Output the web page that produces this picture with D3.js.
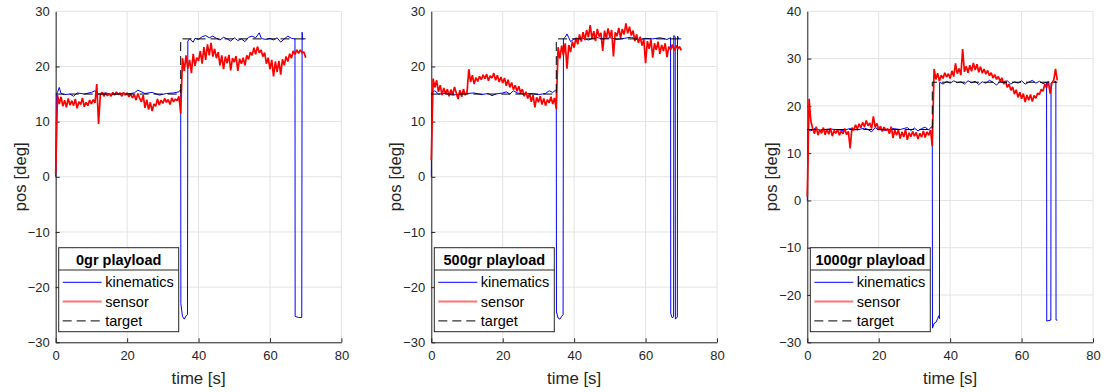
<!DOCTYPE html>
<html>
<head>
<meta charset="utf-8">
<script src="https://cdn.jsdelivr.net/npm/d3@7"></script>
<style>
body { margin: 0; background: #fff; }
svg { display: block; }
text { font-family: "Liberation Sans", Arial, sans-serif; fill: #262626; }
</style>
</head>
<body>
<svg id="chart" width="1104" height="392"></svg>
<script>
// sensor samples every 0.5 s, t = 0 .. 70
var sensorTime = d3.range(0, 70.01, 0.5);

var sensor0 = [
    0.5, 14.8, 13.2, 14.5, 12.8, 13.9, 12.6, 14.2, 13.0, 13.8,
    12.9, 14.1, 12.4, 13.6, 13.1, 14.3, 12.7, 13.5, 12.9, 13.9,
    13.2, 14.0, 13.4, 16.8, 9.6, 14.9, 15.3, 14.6, 15.2, 14.7,
    15.1, 14.6, 15.3, 14.8, 15.4, 14.9, 15.2, 14.6, 15.3, 14.8,
    15.2, 14.5, 15.0, 14.3, 14.9, 13.9, 15.1, 14.2, 13.6, 14.8,
    12.5, 14.0, 12.2, 13.5, 11.9, 13.2, 12.8, 14.1, 13.0, 13.9,
    13.3, 14.2, 13.5, 14.0, 13.1, 14.3, 13.6, 14.1, 13.8, 14.6,
    11.5, 21.5, 19.2, 22.0, 19.6, 21.2, 18.8, 22.3, 20.1, 21.6,
    21.0, 22.8, 20.5, 23.5, 21.2, 24.0, 22.0, 24.3, 21.8, 23.2,
    21.5, 22.6, 20.2, 22.0, 19.5, 21.8, 20.6, 22.1, 19.3, 21.5,
    20.8, 21.9, 19.2, 21.4, 20.5, 21.6, 20.2, 22.0, 21.3, 22.6,
    22.0, 23.4, 22.2, 23.6, 22.5, 23.0, 21.8, 22.5, 20.5, 21.6,
    19.5, 21.2, 18.2, 20.9, 19.0, 21.0, 18.5, 21.3, 20.2, 21.8,
    20.9, 22.3, 21.5, 22.8, 22.2, 23.0, 22.4, 23.0, 22.5, 22.6,
    21.6
];

var sensor500 = [
    3.0, 17.8, 16.2, 17.5, 15.4, 16.6, 14.8, 16.1, 15.0, 15.9,
    14.6, 15.8, 14.9, 16.3, 15.2, 14.1, 15.7, 14.5, 15.9, 14.8,
    15.3, 19.5, 17.2, 18.4, 16.8, 18.0, 17.3, 18.2, 17.6, 18.5,
    17.8, 18.6, 17.4, 18.3, 17.9, 18.8, 17.5, 18.4, 17.2, 18.1,
    17.0, 17.9, 16.5, 17.6, 16.2, 17.1, 15.8, 16.6, 15.5, 16.4,
    15.2, 15.9, 14.6, 15.4, 14.2, 15.1, 13.6, 14.8, 12.6, 14.4,
    13.5, 14.6, 13.1, 14.2, 12.9, 14.0, 13.4, 14.5, 13.2, 14.3,
    12.3, 23.5, 21.4, 23.8, 22.0, 24.2, 19.6, 23.9, 22.6, 24.5,
    23.4, 25.2, 24.0, 25.8, 24.5, 26.2, 24.8, 26.6, 25.3, 27.5,
    25.0, 26.4, 24.6, 26.8, 25.4, 26.1, 22.8, 26.5, 25.1, 26.9,
    25.3, 26.6, 21.8, 26.2, 25.5, 27.0, 25.2, 26.8, 25.8, 27.8,
    26.0, 27.2, 25.6, 26.5, 24.6, 25.8, 24.3, 25.4, 23.8, 24.9,
    20.6, 24.6, 23.2, 24.9, 21.6, 24.2, 23.0, 24.5, 22.3, 23.9,
    22.8, 24.2, 21.7, 23.6, 23.0, 24.0, 22.9, 23.8, 23.2, 23.6,
    22.9
];

var sensor1000 = [
    0.8, 21.5, 16.8, 15.2, 14.1, 15.6, 13.8, 15.0, 14.2, 15.4,
    13.9, 15.1, 14.0, 15.3, 13.6, 14.8, 14.2, 15.0, 13.8, 14.7,
    14.1, 15.2, 13.9, 14.6, 11.0, 15.4, 14.8, 16.0, 15.1, 16.2,
    15.4, 16.5, 15.6, 16.9, 15.8, 16.4, 15.2, 17.8, 15.5, 16.3,
    14.9, 15.7, 14.6, 15.5, 14.8, 15.2, 14.1, 15.6, 13.2, 14.9,
    13.8, 14.9, 13.1, 14.5, 13.4, 15.0, 12.8, 14.3, 13.5, 14.6,
    13.6, 14.4, 13.0, 14.2, 13.4, 14.7, 13.3, 14.5, 13.8, 14.9,
    11.5, 27.8, 25.6, 26.9, 25.2, 26.5, 25.8, 27.0, 26.1, 26.8,
    25.8, 27.4, 26.2, 29.0, 26.8, 27.9, 26.5, 32.0, 27.2, 28.4,
    27.0, 28.6, 27.3, 29.1, 27.6, 28.8, 27.1, 28.3, 26.9, 27.8,
    26.7, 27.5, 26.4, 27.0, 25.9, 26.6, 25.6, 26.2, 25.2, 25.9,
    24.6, 25.3, 23.9, 24.6, 23.3, 24.0, 22.5, 23.4, 21.8, 22.9,
    21.5, 22.6, 20.8, 22.3, 21.2, 22.4, 20.9, 22.2, 21.6, 22.7,
    22.4, 23.5, 23.1, 24.6, 23.8, 25.2, 22.6, 24.9, 25.4, 27.8,
    25.4
];

// kinematics (time [s], pos [deg])
var kinTime0 = [0, 0.2, 0.5, 1, 1.5, 2.5, 4, 5, 6, 8, 10, 11, 12, 14, 16, 18, 20, 22, 23, 25, 27, 29, 31, 33, 34.5, 35,
    35.05, 35.5, 36, 36.5, 36.9, 37, 37.5, 38.5, 39, 40, 41, 42, 43, 44, 45, 46, 47, 48, 49, 50, 51, 52, 53, 54, 55, 56, 57,
    57.5, 58, 59, 60, 61, 62, 63, 64, 65, 66, 67, 67.05, 68, 68.9, 69, 69.1, 70];
var kinPos0 = [0, 14.8, 15.3, 16.2, 15.1, 14.9, 15.0, 14.6, 15.2, 15.0, 15.3, 15.6, 15.0, 15.2, 14.9, 15.1, 15.0, 15.2, 15.7, 15.1, 15.3, 14.8, 15.1, 15.2, 15.4, 15.8,
    -23.0, -25.3, -25.8, -25.2, -25.0, 24.6, 25.0, 24.4, 25.1, 24.9, 25.4, 25.6, 25.2, 25.5, 25.1, 24.8, 25.3, 25.0, 24.6, 25.2, 24.7, 25.0, 24.5, 25.3, 25.5, 25.2, 26.1,
    25.2, 25.0, 24.9, 25.1, 24.8, 25.2, 24.4, 25.0, 25.5, 25.1, 25.0, -25.3, -25.5, -25.5, 26.2, 25.0, 25.0];

var kinTime500 = [0, 0.2, 1, 2, 4, 6, 8, 10, 12, 14, 16, 17, 18, 20, 21, 22, 23, 24, 26, 28, 30, 32, 33, 34, 34.8, 35,
    35.05, 35.5, 36, 36.5, 36.9, 37, 37.5, 38, 38.5, 39, 40, 42, 44, 46, 48, 50, 52, 54, 56, 58, 60, 62, 64, 66, 67,
    67.05, 67.5, 67.85, 67.9, 68.3, 68.35, 68.9, 68.95, 69.3, 70];
var kinPos500 = [0, 15.3, 15.6, 15.0, 15.1, 14.8, 15.0, 15.1, 15.2, 14.9, 15.1, 14.7, 15.0, 15.2, 15.4, 15.0, 15.6, 15.2, 15.0, 15.1, 14.9, 15.1, 15.6, 15.3, 15.7, 15.5,
    -24.5, -25.6, -25.8, -25.3, -25.0, 25.0, 25.3, 25.9, 25.2, 24.5, 25.0, 25.2, 24.8, 25.3, 25.0, 25.2, 24.9, 25.1, 25.3, 24.8, 25.1, 25.0, 25.2, 24.9, 25.2,
    -24.8, -25.6, -25.3, 25.6, 25.4, -25.8, -25.4, 25.5, 25.0, 25.0];

var kinTime1000 = [0, 0.2, 1, 2, 4, 6, 8, 10, 12, 14, 16, 17, 18, 19, 20, 22, 24, 26, 28, 29, 30, 31, 32, 33, 34, 34.8, 35,
    35.05, 35.5, 36, 36.5, 36.8, 37, 37.05, 38, 39, 40, 41, 42, 43, 44, 45, 46, 47, 48, 49, 50, 51, 52, 53, 54, 55, 56, 57,
    58, 59, 60, 61, 62, 63, 64, 65, 66, 67, 67.05, 68.2, 68.25, 69.6, 69.65, 70];
var kinPos1000 = [0, 15.0, 14.7, 15.2, 14.8, 15.1, 15.0, 14.8, 15.2, 14.9, 15.3, 15.0, 14.5, 15.4, 15.0, 14.8, 15.2, 15.0, 15.4, 14.8, 15.3, 14.7, 15.2, 15.5, 14.9, 15.6, 15.3,
    -27.0, -26.0, -25.8, -25.0, -24.4, -25.0, 25.0, 24.6, 25.2, 24.8, 25.3, 24.9, 25.1, 24.6, 25.3, 24.9, 25.2, 24.5, 25.1, 24.8, 25.4, 25.0, 24.4, 25.2, 24.9, 25.3, 24.6,
    25.1, 24.8, 25.3, 24.6, 25.0, 25.4, 24.8, 25.2, 24.7, 25.0, -25.5, -25.3, 24.8, 25.2, -25.3, -25.3];

var targetTime = [0, 35, 35, 70];
var targetPos = [15, 15, 25, 25];

var panelTitles = ["0gr playload", "500gr playload", "1000gr playload"];
var panelLefts = [55.7, 431.3, 807.3];
var yDomains = [[-30, 30], [-30, 30], [-30, 40]];
var xTicks = [0, 20, 40, 60, 80];
var legendLabels = ["kinematics", "sensor", "target"];

var svg = d3.select("#chart");
var plotTop = 11.3, plotBottom = 342.3, plotWidth = 285.7;

function zipSeries(ts, vs) {
    return ts.map(function(t, i) { return [t, vs[i]]; });
}

function drawPanel(k, sensor, kinT, kinV) {
    var left = panelLefts[k];
    var x = d3.scaleLinear().domain([0, 80]).range([left, left + plotWidth]);
    var y = d3.scaleLinear().domain(yDomains[k]).range([plotBottom, plotTop]);
    var yTicks = d3.range(yDomains[k][0], yDomains[k][1] + 1, 10);
    var g = svg.append("g");

    // grid
    g.selectAll(".gx").data(xTicks).enter().append("line")
        .attr("x1", function(d) { return x(d); }).attr("x2", function(d) { return x(d); })
        .attr("y1", plotTop).attr("y2", plotBottom)
        .attr("stroke", "#e3e3e3").attr("stroke-width", 1);
    g.selectAll(".gy").data(yTicks).enter().append("line")
        .attr("x1", left).attr("x2", left + plotWidth)
        .attr("y1", function(d) { return y(d); }).attr("y2", function(d) { return y(d); })
        .attr("stroke", "#e3e3e3").attr("stroke-width", 1);

    // axes, ticks inward
    var ax = g.append("g").attr("transform", "translate(0," + plotBottom + ")")
        .call(d3.axisBottom(x).tickValues(xTicks).tickSizeInner(-4).tickSizeOuter(0).tickPadding(10));
    var ay = g.append("g").attr("transform", "translate(" + left + ",0)")
        .call(d3.axisLeft(y).tickValues(yTicks).tickSizeInner(-4).tickSizeOuter(0).tickPadding(10));
    [ax, ay].forEach(function(a) {
        a.select(".domain").attr("stroke", "#262626");
        a.selectAll(".tick line").attr("stroke", "#262626");
        a.selectAll(".tick text").attr("fill", "#262626").style("font-size", "13px")
            .style("font-family", '"Liberation Sans", Arial, sans-serif');
    });
    ay.selectAll(".tick text").attr("x", -6);
    ax.selectAll(".tick text").attr("y", 8);
    ay.selectAll(".tick").filter(function(d) { return d === yDomains[k][1]; }).select("line").remove();

    // data
    var line = d3.line().x(function(d) { return x(d[0]); }).y(function(d) { return y(d[1]); });
    g.append("path").datum(zipSeries(kinT, kinV)).attr("d", line)
        .attr("fill", "none").attr("stroke", "#0000ff").attr("stroke-width", 1);
    g.append("path").datum(zipSeries(sensorTime, sensor)).attr("d", line)
        .attr("fill", "none").attr("stroke", "#ff0000").attr("stroke-width", 1.7)
        .attr("stroke-linejoin", "bevel");
    g.append("path").datum(zipSeries(targetTime, targetPos)).attr("d", line)
        .attr("fill", "none").attr("stroke", "#000").attr("stroke-width", 1)
        .attr("stroke-dasharray", "9,5");

    // axis labels
    g.append("text").attr("x", left + plotWidth / 2).attr("y", 384)
        .attr("text-anchor", "middle").style("font-size", "16.8px").text("time [s]");
    g.append("text").attr("transform", "translate(" + (left - 36) + "," + ((plotTop + plotBottom) / 2) + ") rotate(-90)")
        .attr("text-anchor", "middle").attr("dy", "0.35em").style("font-size", "16.8px").text("pos [deg]");

    // legend
    var lx = left + 3, ly = 247.7, lw = 120, lh = 84;
    var lg = g.append("g");
    lg.append("rect").attr("x", lx).attr("y", ly).attr("width", lw).attr("height", lh)
        .attr("fill", "#fff").attr("stroke", "#262626").attr("stroke-width", 1);
    lg.append("line").attr("x1", lx).attr("x2", lx + lw).attr("y1", 270).attr("y2", 270)
        .attr("stroke", "#262626").attr("stroke-width", 1);
    lg.append("text").attr("x", lx + lw / 2).attr("y", 264.5).attr("text-anchor", "middle")
        .style("font-size", "14.5px").style("font-weight", "bold").style("fill", "#000")
        .text(panelTitles[k]);
    var styles = [
        { color: "#0000ff", width: 1, dash: null },
        { color: "#ff7373", width: 2, dash: null },
        { color: "#000", width: 1, dash: "9,5" }
    ];
    legendLabels.forEach(function(lab, i) {
        var cy = 282.3 + i * 19.3;
        lg.append("line").attr("x1", lx + 4).attr("x2", lx + 43).attr("y1", cy).attr("y2", cy)
            .attr("stroke", styles[i].color).attr("stroke-width", styles[i].width)
            .attr("stroke-dasharray", styles[i].dash);
        lg.append("text").attr("x", lx + 46.5).attr("y", cy + 5)
            .style("font-size", "14.5px").style("fill", "#000").text(lab);
    });
}

drawPanel(0, sensor0, kinTime0, kinPos0);
drawPanel(1, sensor500, kinTime500, kinPos500);
drawPanel(2, sensor1000, kinTime1000, kinPos1000);
</script>
</body>
</html>
